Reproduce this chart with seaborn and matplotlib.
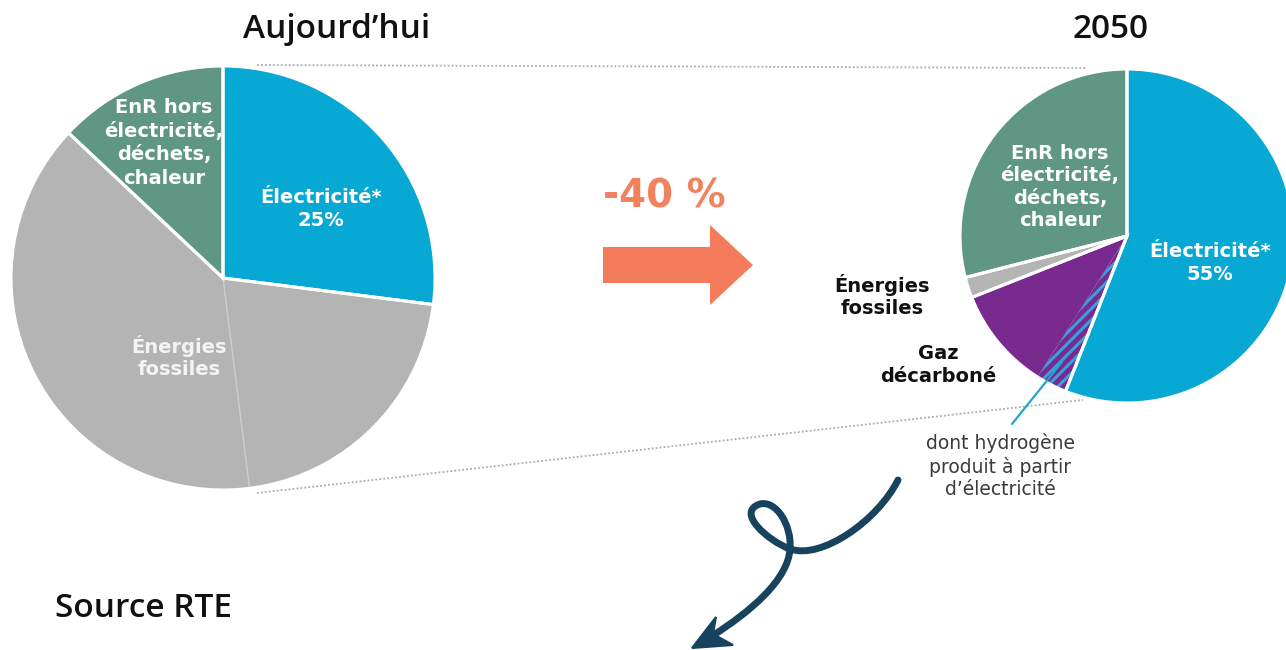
import matplotlib
matplotlib.use("Agg")
import matplotlib.pyplot as plt
import seaborn as sns
from matplotlib.path import Path
from matplotlib.patches import FancyArrow, PathPatch, Polygon

# ---------------- data ----------------
today_labels = ["Électricité*", "Énergies fossiles (1)", "Énergies fossiles (2)",
                "EnR hors électricité, déchets, chaleur"]
today_values = [27, 21, 39, 13]

future_labels = ["Électricité*", "dont hydrogène produit à partir d'électricité",
                 "Gaz décarboné", "Énergies fossiles",
                 "EnR hors électricité, déchets, chaleur"]
future_values = [56, 3, 10, 2, 29]

title_today = "Aujourd’hui"
title_future = "2050"
reduction_label = "-40 %"
source_label = "Source RTE"

# ---------------- style ----------------
sns.set_theme(style="white")
plt.rcParams["font.family"] = ["DejaVu Sans"]
plt.rcParams["hatch.linewidth"] = 2.2

BLUE = "#07a8d3"
GREY = "#b4b4b4"
GREEN = "#5f9784"
PURPLE = "#792a8e"
HATCH = "#3a9fdc"
ORANGE = "#f47b5b"
ORANGE_TXT = "#f2825f"
NAVY = "#17435f"

H = 650


def Y(y):
    return H - y


fig = plt.figure(figsize=(12.86, 6.5), dpi=100)
ax = fig.add_axes([0, 0, 1, 1])
kw = dict(startangle=90, counterclock=False)

# ---------------- left pie ----------------
c1 = (223, Y(278))
r1 = 212
ax.pie(today_values, colors=[BLUE, GREY, GREY, GREEN], center=c1, radius=r1,
       wedgeprops=dict(linewidth=0), **kw)
ax.pie(today_values, colors=["none"] * 4, center=c1, radius=r1,
       wedgeprops=dict(fill=False, edgecolor="#cdcdcd", linewidth=0.8), **kw)
ax.pie([today_values[0], today_values[1] + today_values[2], today_values[3]],
       center=c1, radius=r1,
       wedgeprops=dict(fill=False, edgecolor="white", linewidth=2.2), **kw)

# ---------------- right pie ----------------
c2 = (1127, Y(236))
r2 = 167
w2, _ = ax.pie(future_values, colors=[BLUE, PURPLE, PURPLE, GREY, GREEN],
               center=c2, radius=r2, wedgeprops=dict(linewidth=0), **kw)
w2[1].set_hatch("///")
w2[1].set_edgecolor(HATCH)
w2[1].set_linewidth(0)
ax.pie([future_values[0], future_values[1] + future_values[2],
        future_values[3], future_values[4]],
       center=c2, radius=r2,
       wedgeprops=dict(fill=False, edgecolor="white", linewidth=2.2), **kw)

ax.set_xlim(0, 1286)
ax.set_ylim(0, H)
ax.set_aspect("equal")
ax.axis("off")

# ---------------- dotted connectors ----------------
dot = dict(ls=(0, (1, 1.2)), color="#ababab", lw=1.3)
ax.plot([257, 1087], [Y(65), Y(68)], **dot)
ax.plot([257, 1083], [Y(493), Y(400)], **dot)

# ---------------- labels ----------------
bold = dict(fontsize=14, fontweight="bold", ha="center", va="center",
            family="DejaVu Sans", multialignment="center")
ax.text(164, Y(143), "EnR hors\nélectricité,\ndéchets,\nchaleur", color="white",
        linespacing=1.3, **bold)
ax.text(321, Y(209), "Électricité*\n25%", color="white", linespacing=1.25, **bold)
ax.text(179, Y(357), "Énergies\nfossiles", color="#f4f4f4", linespacing=1.25, **bold)

ax.text(1060, Y(187), "EnR hors\nélectricité,\ndéchets,\nchaleur", color="white",
        linespacing=1.22, **bold)
ax.text(1210, Y(263), "Électricité*\n55%", color="white", linespacing=1.22, **bold)
ax.text(882, Y(296), "Énergies\nfossiles", color="#111111", linespacing=1.22, **bold)
ax.text(938, Y(365), "Gaz\ndécarboné", color="#111111", linespacing=1.22, **bold)

ax.text(1000, Y(466), "dont hydrogène\nproduit à partir\nd’électricité", fontsize=13.5,
        color="#3b3b3b", ha="center", va="center", multialignment="center",
        linespacing=1.25)
ax.plot([1012, 1062], [Y(424), Y(362)], color="#1fa8c9", lw=1.6)

# titles
tkw = dict(fontsize=24, color="#111111", family=["Open Sans", "DejaVu Sans"],
           fontweight="semibold", va="baseline")
ax.text(337, Y(38), title_today, ha="center", **tkw)
ax.text(1111, Y(38), title_future, ha="center", **tkw)
ax.text(55, Y(617), source_label, ha="left", **tkw)

# reduction arrow
ax.text(664, Y(197), reduction_label, fontsize=28, fontweight="bold",
        color=ORANGE_TXT, ha="center", va="center")
ax.add_patch(FancyArrow(603, Y(265), 150, 0, width=36, head_width=80,
                        head_length=43, length_includes_head=True,
                        color=ORANGE, lw=0))

# curly arrow
pts = [(898, 480),
       (878, 520), (822, 560), (790, 549),
       (768, 541), (735, 512), (760, 504),
       (776, 500), (792, 525), (790, 549),
       (788, 580), (750, 612), (712, 636)]
codes = [Path.MOVETO] + [Path.CURVE4] * 12
path = Path([(x, Y(y)) for x, y in pts], codes)
ax.add_patch(PathPatch(path, fill=False, lw=5, edgecolor=NAVY,
                       capstyle="round", joinstyle="round"))
head = [(692, 648), (716, 617), (713, 634), (733, 645)]
ax.add_patch(Polygon([(x, Y(y)) for x, y in head], closed=True,
                     facecolor=NAVY, edgecolor=NAVY, lw=1.5, joinstyle="miter"))

fig.savefig("out.png", dpi=100)
